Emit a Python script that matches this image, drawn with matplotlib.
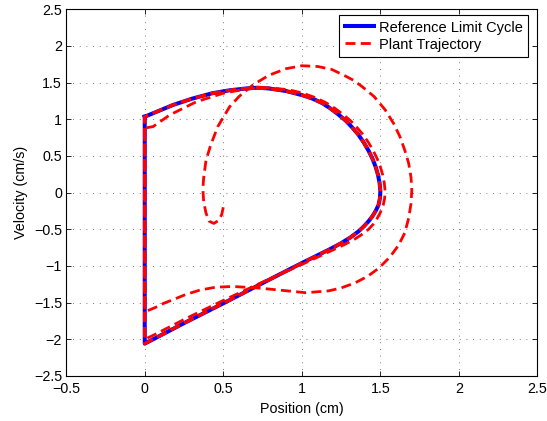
import numpy as np
import matplotlib
matplotlib.use('Agg')
import matplotlib.pyplot as plt

plt.rcParams['font.family'] = ['Liberation Sans', 'DejaVu Sans']

# reference limit cycle (closed)
ref_pos = [0, 0.09, 0.18, 0.30, 0.43, 0.54, 0.645, 0.72, 0.79, 0.90, 1.0, 1.07, 1.13, 1.18, 1.23,
           1.28, 1.32, 1.36, 1.395, 1.425, 1.45, 1.47, 1.485, 1.495, 1.50, 1.497, 1.488, 1.47, 1.45,
           1.425, 1.395, 1.36, 1.31, 1.25, 1.18, 1.10, 1.0, 0.79, 0.50, 0.25, 0, 0]
ref_vel = [1.035, 1.115, 1.195, 1.28, 1.355, 1.395, 1.42, 1.43, 1.42, 1.385, 1.33, 1.28, 1.22, 1.15, 1.07,
           0.98, 0.89, 0.79, 0.68, 0.57, 0.46, 0.35, 0.24, 0.13, 0.02, -0.08, -0.17, -0.25, -0.32,
           -0.39, -0.46, -0.53, -0.61, -0.69, -0.77, -0.855, -0.96, -1.19, -1.51, -1.78, -2.06, 1.035]

# plant transient: first spiral out from the initial condition
p1_pos = [0.50, 0.49, 0.47, 0.44, 0.41, 0.39, 0.375, 0.37, 0.375, 0.39, 0.42, 0.465, 0.54, 0.60, 0.69,
          0.79, 0.90, 1.0, 1.10, 1.19, 1.268, 1.33, 1.384, 1.46, 1.53, 1.585, 1.625, 1.655, 1.68, 1.695,
          1.70, 1.695, 1.68, 1.655, 1.615, 1.56, 1.49, 1.42, 1.34, 1.25, 1.17, 1.025, 0.86, 0.72, 0.56,
          0.45, 0.35, 0.26, 0.18, 0.12, 0.074, 0.03, 0]
p1_vel = [-0.20, -0.30, -0.38, -0.42, -0.39, -0.28, -0.12, 0.05, 0.20, 0.44, 0.65, 0.90, 1.17, 1.31, 1.47,
          1.60, 1.69, 1.73, 1.72, 1.68, 1.60, 1.53, 1.445, 1.31, 1.13, 0.94, 0.76, 0.58, 0.40, 0.21,
          0.03, -0.15, -0.35, -0.55, -0.72, -0.88, -1.03, -1.14, -1.23, -1.30, -1.34, -1.365, -1.33, -1.30, -1.28,
          -1.29, -1.33, -1.39, -1.46, -1.51, -1.56, -1.60, -1.62]

# second loop, slightly outside the reference on the right
p2_pos = [0, 0.053, 0.16, 0.33, 0.50, 0.65, 0.80, 0.92, 1.0, 1.08, 1.15, 1.21, 1.26, 1.31, 1.35, 1.39,
          1.425, 1.455, 1.48, 1.50, 1.515, 1.525, 1.53, 1.527, 1.518, 1.50, 1.48, 1.455, 1.425, 1.39,
          1.34, 1.27, 1.20, 1.10, 1.0, 0.75, 0.50, 0.25, 0.05, 0]
p2_vel = [0.88, 0.90, 1.06, 1.24, 1.355, 1.415, 1.43, 1.40, 1.36, 1.30, 1.23, 1.15, 1.07, 0.98, 0.89, 0.79,
          0.68, 0.57, 0.46, 0.35, 0.24, 0.13, 0.02, -0.08, -0.17, -0.27, -0.35, -0.43, -0.50, -0.56,
          -0.63, -0.71, -0.78, -0.88, -0.98, -1.22, -1.47, -1.73, -1.95, -2.00]

# after the second loop the plant sits on the reference cycle (two more laps)
plant_pos = p1_pos + p2_pos + ref_pos + ref_pos[1:]
plant_vel = p1_vel + p2_vel + ref_vel + ref_vel[1:]

xticks = [-0.5, 0, 0.5, 1, 1.5, 2, 2.5]
xlabels = ['\u22120.5', '0', '0.5', '1', '1.5', '2', '2.5']
yticks = [-2.5, -2, -1.5, -1, -0.5, 0, 0.5, 1, 1.5, 2, 2.5]
ylabels = ['\u22122.5', '\u22122', '\u22121.5', '\u22121', '\u22120.5', '0', '0.5', '1', '1.5', '2', '2.5']

fig = plt.figure(figsize=(5.47, 4.21), dpi=100)
ax = fig.add_axes([0.121, 0.107, 0.8616, 0.871])

ax.plot(ref_pos, ref_vel, color='#0000ff', lw=2.9, label='Reference Limit Cycle', zorder=3)
ax.plot(plant_pos, plant_vel, color='#ff0000', lw=2.0, dashes=(3.6, 1.9),
        label='Plant Trajectory', zorder=4)

ax.set_xlim(-0.5, 2.5)
ax.set_ylim(-2.5, 2.5)
ax.set_xticks(xticks)
ax.set_xticklabels(xlabels)
ax.set_yticks(yticks)
ax.set_yticklabels(ylabels)
ax.tick_params(direction='in', length=3.6, width=0.6, labelsize=10.3, top=True, right=True)
ax.tick_params(axis='x', pad=4)
ax.tick_params(axis='y', pad=3)
ax.grid(True, color='0.3', lw=0.6, linestyle=(0, (1, 7)))
for s in ax.spines.values():
    s.set_linewidth(0.8)

ax.set_xlabel('Position (cm)', fontsize=10.3, labelpad=5)
ax.set_ylabel('Velocity (cm/s)', fontsize=10.3, labelpad=4)

leg = ax.legend(loc='upper right', bbox_to_anchor=(0.9805, 0.985), borderaxespad=0,
                fontsize=10.5, handlelength=2.0, handletextpad=0.3, labelspacing=0.2,
                borderpad=0.4, fancybox=False, framealpha=1, edgecolor='black')
leg.get_frame().set_linewidth(0.8)

fig.savefig('out.png', dpi=100)
